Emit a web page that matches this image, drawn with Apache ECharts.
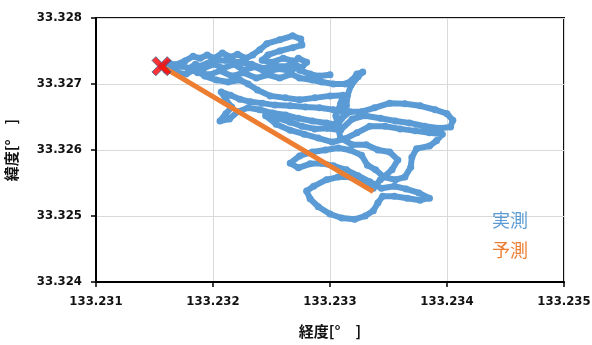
<!DOCTYPE html>
<html>
<head>
<meta charset="utf-8">
<script src="https://cdn.jsdelivr.net/npm/echarts@6/dist/echarts.min.js"></script>
<style>
html,body{margin:0;padding:0;background:#fff;}
#chart{width:592px;height:345px;}
</style>
</head>
<body>
<div id="chart"></div>
<script>
// X axis (longitude) range and ticks
const xMin = 133.231, xMax = 133.235, xStep = 0.001;
// Y axis (latitude) range and ticks
const yMin = 33.324, yMax = 33.328, yStep = 0.001;
const seriesNames = ['実測', '予測'];
const xAxisName = '経度[°\u3000]';
const yAxisName = '緯度[°\u3000]';

// Measured track (実測)
const measuredLon = [
133.23156,133.23162,133.23168,133.23176,133.23183,133.23189,133.23195,133.23201,133.23208,133.23215,
133.23221,133.23228,133.23234,133.23240,133.23246,133.23257,133.23268,133.23275,133.23276,133.23268,
133.23257,133.23247,133.23242,133.23250,133.23260,133.23268,133.23273,133.23266,133.23256,133.23245,
133.23236,133.23226,133.23218,133.23209,133.23201,133.23192,133.23185,133.23179,133.23187,133.23197,
133.23206,133.23216,133.23226,133.23237,133.23247,133.23257,133.23267,133.23274,133.23285,133.23293,
133.23303,133.23313,133.23319,133.23323,133.23328,133.23324,133.23318,133.23315,133.23314,133.23311,
133.23303,133.23291,133.23279,133.23266,133.23253,133.23242,133.23232,133.23223,133.23215,133.23207,
133.23211,133.23216,133.23211,133.23206,133.23214,133.23221,133.23230,133.23240,133.23251,133.23262,
133.23273,133.23285,133.23297,133.23307,133.23310,133.23317,133.23327,133.23338,133.23351,133.23364,
133.23377,133.23390,133.23400,133.23405,133.23403,133.23394,133.23381,133.23368,133.23356,133.23343,
133.23330,133.23319,133.23309,133.23298,133.23287,133.23276,133.23266,133.23256,133.23245,133.23254,
133.23266,133.23278,133.23290,133.23302,133.23313,133.23323,133.23334,133.23347,133.23360,133.23373,
133.23385,133.23396,133.23391,133.23385,133.23374,133.23370,133.23369,133.23364,133.23356,133.23346,
133.23339,133.23332,133.23327,133.23317,133.23307,133.23296,133.23285,133.23274,133.23266,133.23273,
133.23283,133.23293,133.23303,133.23314,133.23324,133.23334,133.23344,133.23355,133.23365,133.23376,
133.23385,133.23377,133.23366,133.23355,133.23345,133.23341,133.23337,133.23330,133.23321,133.23310,
133.23300,133.23290,133.23283,133.23280,133.23286,133.23297,133.23307,133.23317,133.23327,133.23337,
133.23343,133.23353,133.23358,133.23351,133.23341,133.23331,133.23319,133.23309,133.23307,133.23305,
133.23309,133.23311,133.23300,133.23287,133.23274,133.23262,133.23249,133.23238,133.23230,133.23223,
133.23213,133.23203,133.23193,133.23185,133.23174,133.23165,133.23160,133.23168,133.23177,133.23189,
133.23199,133.23211,133.23223,133.23233,133.23242,133.23254,133.23264,133.23273,133.23280,133.23274,
133.23283,133.23291,133.23300
];
const measuredLat = [
33.32727,33.32732,33.32729,33.32735,33.32742,33.32739,33.32744,33.32739,33.32747,33.32741,
33.32745,33.32739,33.32744,33.32752,33.32761,33.32767,33.32773,33.32768,33.32759,33.32755,
33.32750,33.32744,33.32736,33.32733,33.32739,33.32735,33.32726,33.32720,33.32723,33.32718,
33.32726,33.32721,33.32730,33.32724,33.32730,33.32724,33.32730,33.32723,33.32717,33.32714,
33.32720,33.32712,33.32717,33.32709,33.32714,33.32709,33.32715,33.32709,33.32706,33.32703,
33.32700,33.32700,33.32706,33.32715,33.32718,33.32711,33.32698,33.32683,33.32667,33.32658,
33.32661,33.32664,33.32665,33.32667,33.32668,33.32671,33.32673,33.32677,33.32683,33.32688,
33.32676,33.32665,33.32655,33.32644,33.32647,33.32658,33.32664,33.32661,33.32656,33.32653,
33.32648,33.32644,33.32641,33.32638,33.32648,33.32658,33.32658,33.32664,33.32671,33.32670,
33.32667,33.32661,33.32655,33.32645,33.32635,33.32633,33.32636,33.32641,33.32644,33.32648,
33.32652,33.32647,33.32630,33.32633,33.32632,33.32636,33.32642,33.32648,33.32652,33.32639,
33.32630,33.32624,33.32618,33.32612,33.32617,33.32626,33.32636,33.32636,33.32632,33.32629,
33.32626,33.32624,33.32614,33.32606,33.32602,33.32589,33.32574,33.32559,33.32555,33.32559,
33.32570,33.32577,33.32592,33.32600,33.32603,33.32600,33.32597,33.32591,33.32580,33.32573,
33.32579,33.32580,33.32576,33.32570,33.32561,33.32552,33.32542,33.32545,33.32541,33.32535,
33.32527,33.32524,33.32527,33.32530,33.32530,33.32520,33.32508,33.32500,33.32495,33.32497,
33.32503,33.32514,33.32526,33.32538,33.32545,33.32555,33.32559,33.32559,33.32553,33.32542,
33.32555,33.32570,33.32585,33.32597,33.32600,33.32608,33.32608,33.32618,33.32633,33.32652,
33.32670,33.32683,33.32682,33.32679,33.32676,33.32679,33.32682,33.32691,33.32700,33.32706,
33.32703,33.32706,33.32712,33.32721,33.32727,33.32724,33.32721,33.32718,33.32715,33.32727,
33.32735,33.32736,33.32733,33.32730,33.32724,33.32727,33.32727,33.32739,33.32733,33.32721,
33.32715,33.32712,33.32714
];
// Predicted path (予測)
const predictedLon = [133.23156, 133.23337];
const predictedLat = [33.32727, 33.32537];
// Start point marker
const startLon = [133.23156];
const startLat = [33.32727];

const zip = (a, b) => a.map((v, i) => [v, b[i]]);
const blue = '#5B9BD5', orange = '#ED7D31', ink = '#111111';
const labelFont = {fontFamily: 'DejaVu Sans Condensed, DejaVu Sans', fontWeight: 'bold', fontSize: 13, color: ink};
const nameFont = {fontFamily: 'Noto Sans CJK JP', fontWeight: 'bold', fontSize: 15, color: ink};

const chart = echarts.init(document.getElementById('chart'));
chart.setOption({
  animation: false,
  grid: {left: 96, right: 28, top: 18, bottom: 63, outerBoundsMode: 'none', show: true, borderColor: ink, borderWidth: 2},
  legend: {
    orient: 'vertical', left: 457, top: 206, itemGap: 12,
    selectedMode: false,
    textStyle: {fontSize: 18, fontFamily: 'Noto Sans CJK JP'},
    data: [
      {name: seriesNames[0], icon: 'none', textStyle: {color: blue}},
      {name: seriesNames[1], icon: 'none', textStyle: {color: orange}}
    ]
  },
  xAxis: {
    type: 'value', min: xMin, max: xMax, interval: xStep,
    name: xAxisName, nameLocation: 'middle', nameGap: 42, nameTextStyle: nameFont,
    axisLine: {show: true, lineStyle: {color: '#000', width: 2}},
    axisTick: {show: true, length: 5, lineStyle: {color: '#000', width: 1.5}},
    axisLabel: Object.assign({margin: 13, formatter: v => v.toFixed(3)}, labelFont),
    splitLine: {show: true, lineStyle: {color: '#d9d9d9', width: 1}}
  },
  yAxis: {
    type: 'value', min: yMin, max: yMax, interval: yStep,
    name: yAxisName, nameLocation: 'middle', nameGap: 77, nameRotate: 90, nameTextStyle: nameFont,
    axisLine: {show: true, lineStyle: {color: '#000', width: 2}},
    axisTick: {show: true, length: 5, lineStyle: {color: '#000', width: 1.5}},
    axisLabel: Object.assign({margin: 14, formatter: v => v.toFixed(3)}, labelFont),
    splitLine: {show: true, lineStyle: {color: '#d9d9d9', width: 1}}
  },
  series: [
    {
      name: seriesNames[0], type: 'line',
      data: zip(measuredLon, measuredLat),
      showSymbol: true, symbol: 'circle', symbolSize: 7,
      itemStyle: {color: blue},
      lineStyle: {color: blue, width: 6, cap: 'round', join: 'round'},
      z: 2
    },
    {
      name: seriesNames[1], type: 'line',
      data: zip(predictedLon, predictedLat),
      showSymbol: false,
      itemStyle: {color: orange},
      lineStyle: {color: orange, width: 5},
      z: 3
    },
    {
      name: 'start', type: 'scatter',
      data: zip(startLon, startLat),
      symbol: 'path://M4,0 L10,6 L16,0 L20,4 L14,10 L20,16 L16,20 L10,14 L4,20 L0,16 L6,10 L0,4 Z',
      symbolSize: 19,
      itemStyle: {color: '#FF0000', borderColor: '#3A5A8A', borderWidth: 1},
      z: 4
    }
  ]
});
</script>
</body>
</html>
